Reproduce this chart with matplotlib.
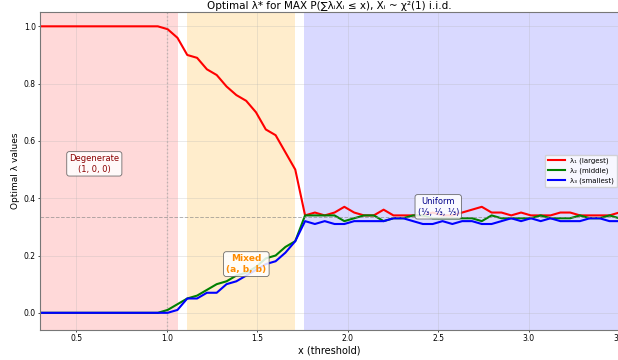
import numpy as np
import matplotlib
matplotlib.use("Agg")
import matplotlib.pyplot as plt

# ── data: optimal weights on a 60-point threshold grid ──
x_grid = np.linspace(0.3, 3.5, 60)

lam1 = [1.0] * 13 + [
    0.99, 0.96, 0.90, 0.89, 0.85, 0.83, 0.79, 0.76, 0.74, 0.70,
    0.64, 0.62, 0.56, 0.50,
    0.34, 0.35, 0.34, 0.35, 0.37, 0.35, 0.34, 0.34, 0.36, 0.34,
    0.34, 0.34, 0.34, 0.35, 0.34, 0.34, 0.35, 0.36, 0.37, 0.35,
    0.35, 0.34, 0.35, 0.34, 0.34, 0.34, 0.35, 0.35, 0.34, 0.34,
    0.34, 0.34, 0.35,
]
lam2 = [0.0] * 13 + [
    0.01, 0.03, 0.05, 0.06, 0.08, 0.10, 0.11, 0.13, 0.14, 0.16,
    0.19, 0.20, 0.23, 0.25,
    0.34, 0.34, 0.34, 0.34, 0.32, 0.33, 0.34, 0.34, 0.32, 0.33,
    0.33, 0.34, 0.34, 0.33, 0.33, 0.33, 0.33, 0.33, 0.32, 0.34,
    0.33, 0.33, 0.33, 0.33, 0.34, 0.33, 0.33, 0.33, 0.34, 0.33,
    0.33, 0.34, 0.33,
]
lam3 = [0.0] * 13 + [
    0.0, 0.01, 0.05, 0.05, 0.07, 0.07, 0.10, 0.11, 0.13, 0.15,
    0.17, 0.18, 0.21, 0.25,
    0.32, 0.31, 0.32, 0.31, 0.31, 0.32, 0.32, 0.32, 0.32, 0.33,
    0.33, 0.32, 0.31, 0.31, 0.32, 0.31, 0.32, 0.32, 0.31, 0.31,
    0.32, 0.33, 0.32, 0.33, 0.32, 0.33, 0.32, 0.32, 0.32, 0.33,
    0.33, 0.32, 0.32,
]

# regime boundaries (shaded bands)
regions = [(0.3, 1.06, "red", 0.15), (1.11, 1.71, "orange", 0.2), (1.76, 3.5, "blue", 0.15)]

fig = plt.figure(figsize=(6.18, 3.6), dpi=100)
ax = fig.add_axes([40 / 618, 30 / 360, 1 - 40 / 618 + 0.002, 318 / 360])

for x0, x1, c, a in regions:
    ax.axvspan(x0, x1, color=c, alpha=a, lw=0)

ax.plot(x_grid, lam1, color="red", lw=1.5, label="λ₁ (largest)")
ax.plot(x_grid, lam2, color="green", lw=1.5, label="λ₂ (middle)")
ax.plot(x_grid, lam3, color="blue", lw=1.5, label="λ₃ (smallest)")

ax.axhline(1 / 3, color="gray", ls="--", lw=0.7, alpha=0.6)
ax.axvline(1.0, color="gray", ls=":", lw=1.0, alpha=0.4)

box = dict(boxstyle="round,pad=0.3", facecolor="white", edgecolor="#555555", alpha=0.85, lw=0.6)
ax.text(0.6, 0.52, "Degenerate\n(1, 0, 0)", ha="center", va="center",
        fontsize=6, color="darkred", bbox=box)
ax.text(1.44, 0.17, "Mixed\n(a, b, b)", ha="center", va="center",
        fontsize=6.5, color="darkorange", fontweight="bold", bbox=box)
ax.text(2.5, 0.37, "Uniform\n(⅓, ⅓, ⅓)", ha="center", va="center",
        fontsize=6, color="darkblue", bbox=box)

ax.set_xlim(0.3, 3.5)
ax.set_ylim(-0.06, 1.05)
ax.set_xlabel("x (threshold)", fontsize=7, labelpad=1.5)
ax.set_ylabel("Optimal λ values", fontsize=6.5, labelpad=3)
ax.set_title("Optimal λ* for MAX P(∑λᵢXᵢ ≤ x), Xᵢ ~ χ²(1) i.i.d.", fontsize=7.5, pad=2)
ax.tick_params(labelsize=5.5, length=1.5, pad=1.5, width=0.5)
ax.grid(True, alpha=0.3, lw=0.6)
ax.legend(loc="center right", fontsize=5, framealpha=0.8, handlelength=2.5,
          borderaxespad=0.3)
for s in ax.spines.values():
    s.set_color("#777777")

fig.savefig("out.png", dpi=100)
